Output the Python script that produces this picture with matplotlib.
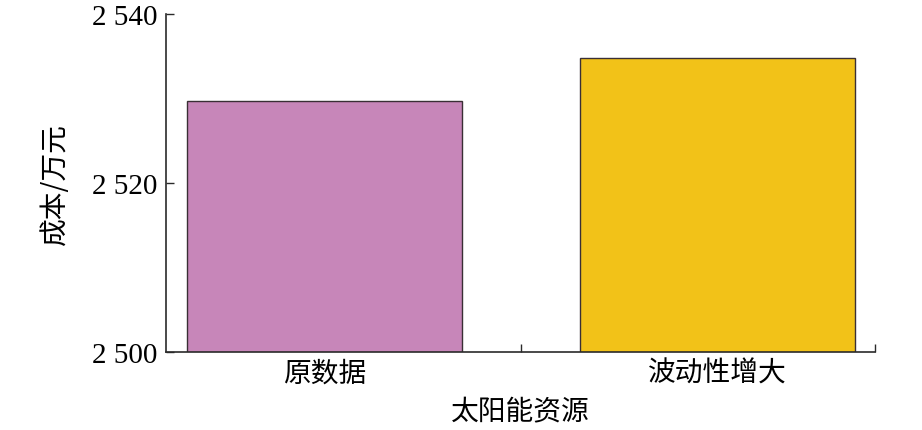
import matplotlib
matplotlib.use("Agg")
import matplotlib.pyplot as plt
from matplotlib.ticker import FuncFormatter, FixedLocator

categories = ['原数据', '波动性增大']
costs = [2529.7, 2534.8]
colors = ['#C786B9', '#F2C218']
y_ticks = [2500, 2520, 2540]

cjk = ['Noto Sans CJK SC', 'DejaVu Sans']
num_font = 'Liberation Serif'

fig = plt.figure(figsize=(9.22, 4.31), dpi=100)
ax = fig.add_axes([0.180, 0.181, 0.769, 0.784])

x = list(range(len(categories)))
ax.bar(x, costs, width=0.70, color=colors, edgecolor='#3a2f35', linewidth=1.0)

ax.set_xlim(-0.403, 1.401)
ax.set_ylim(2500, 2540)

for side in ['top', 'right']:
    ax.spines[side].set_visible(False)
for side in ['left', 'bottom']:
    ax.spines[side].set_linewidth(1.2)
    ax.spines[side].set_color('#2a2a2a')

ax.yaxis.set_major_locator(FixedLocator(y_ticks))
ax.yaxis.set_major_formatter(FuncFormatter(lambda v, p: f'{int(v):,}'.replace(',', ' ')))
ax.tick_params(axis='y', direction='in', length=6, width=1, color='#2a2a2a', pad=6)
for lab in ax.get_yticklabels():
    lab.set_fontfamily(num_font)
    lab.set_fontsize(21)

ax.set_xticks(x)
ax.set_xticklabels(categories, fontfamily=cjk, fontsize=20, fontweight='light')
ax.tick_params(axis='x', which='major', length=0, pad=4)
ax.xaxis.set_minor_locator(FixedLocator([0.5, 1.401]))
ax.tick_params(axis='x', which='minor', direction='in', length=6, width=1, color='#2a2a2a')

ax.set_ylabel('成本/万元', fontfamily=cjk, fontsize=20, fontweight='light', labelpad=16)
ax.set_xlabel('太阳能资源', fontfamily=cjk, fontsize=20, fontweight='light', labelpad=6)

fig.savefig('out.png', dpi=100)
